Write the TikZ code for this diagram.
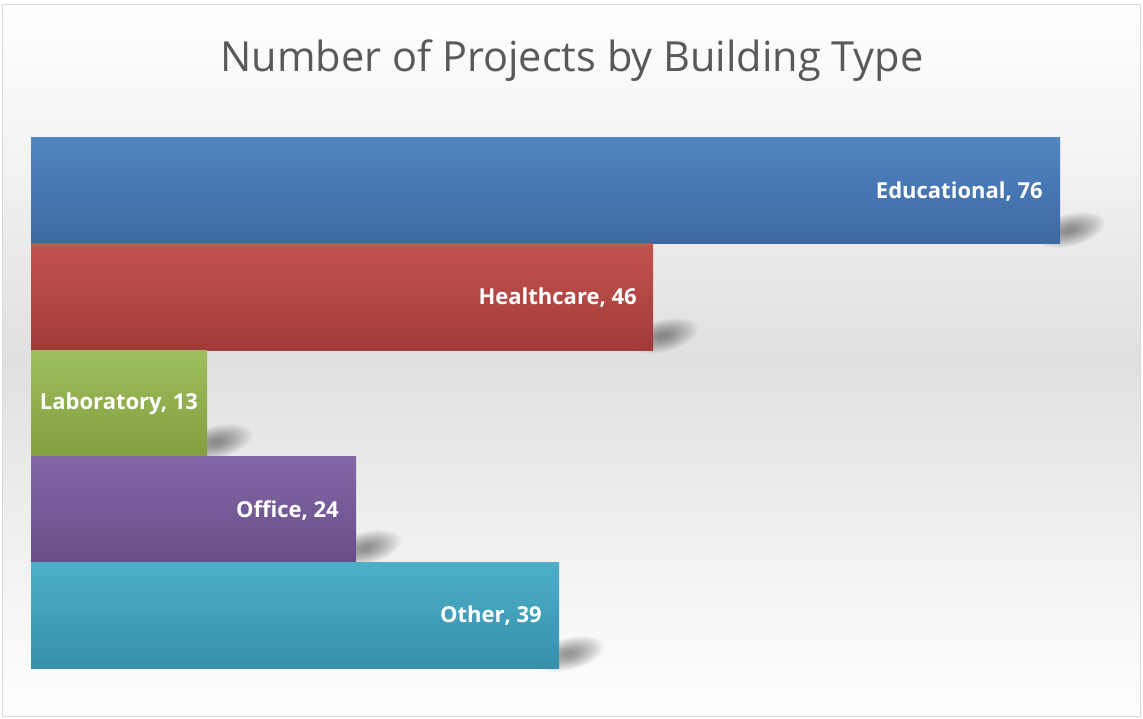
\documentclass[tikz,border=0pt]{standalone}
\usepackage{fontspec}
\setmainfont{Open Sans}
\usetikzlibrary{calc}
\definecolor{titlegray}{HTML}{595959}
\definecolor{frame}{HTML}{D9D9D9}
\definecolor{bgmid}{HTML}{E0E0E0}
\definecolor{blueT}{HTML}{5085C2}
\definecolor{blueB}{HTML}{3D68A2}
\definecolor{redT}{HTML}{C4524F}
\definecolor{redB}{HTML}{A13B38}
\definecolor{greenT}{HTML}{9EBE5C}
\definecolor{greenB}{HTML}{849F42}
\definecolor{purpleT}{HTML}{8367A6}
\definecolor{purpleB}{HTML}{674E88}
\definecolor{cyanT}{HTML}{4DAFC9}
\definecolor{cyanB}{HTML}{3690AB}
\tikzset{
  bar/.style={draw=none},
  barlabel/.style={text=white,font=\bfseries\fontsize{22}{26}\selectfont,inner sep=0pt},
  titlestyle/.style={text=titlegray,font=\fontsize{41.5}{48}\selectfont,inner sep=0pt},
  shadowlayer/.style={black,opacity=0.028},
}
\newcommand{\barshadow}[2]{%
  \begin{scope}[shift={(#1+10,#2-14)},rotate=14]
    \foreach \k in {0,...,15}{
      \fill[shadowlayer] (0,0) ellipse [x radius={36-2*\k}, y radius={16-0.85*\k}];
    }
  \end{scope}%
}
\begin{document}
\begin{tikzpicture}[x=1pt,y=-1pt]
\useasboundingbox (0,0) rectangle (1143,719);
% background
\shade[top color=white,bottom color=white,middle color=bgmid] (2.5,4.5) rectangle (1140.5,716.5);
\shade[top color=white,bottom color=white!94!black] (2.5,4.5) rectangle (1140.5,200);
\draw[frame,line width=1pt] (2.5,4.5) rectangle (1140.5,716.5);
% title
\node[titlestyle,anchor=base] (title) at (572,72) {Number of Projects by Building Type};
% shadows
\barshadow{1060}{244}
\barshadow{653}{350}
\barshadow{207}{456}
\barshadow{356}{562}
\barshadow{559}{668}
% bars
\shade[bar,top color=blueT,bottom color=blueB] (31,138) rectangle (1060,244);
\node[barlabel,anchor=east] (edu) at (1043,192) {Educational, 76};
\shade[bar,top color=redT,bottom color=redB] (31,244) rectangle (653,350);
\node[barlabel,anchor=east] (health) at (637,298) {Healthcare, 46};
\shade[bar,top color=greenT,bottom color=greenB] (31,350) rectangle (207,456);
\node[barlabel] (lab) at (119,404) {Laboratory, 13};
\shade[bar,top color=purpleT,bottom color=purpleB] (31,456) rectangle (356,562);
\node[barlabel,anchor=east] (office) at (339,510) {Office, 24};
\shade[bar,top color=cyanT,bottom color=cyanB] (31,562) rectangle (559,668);
\node[barlabel,anchor=east] (other) at (542,616) {Other, 39};
\end{tikzpicture}
\end{document}
